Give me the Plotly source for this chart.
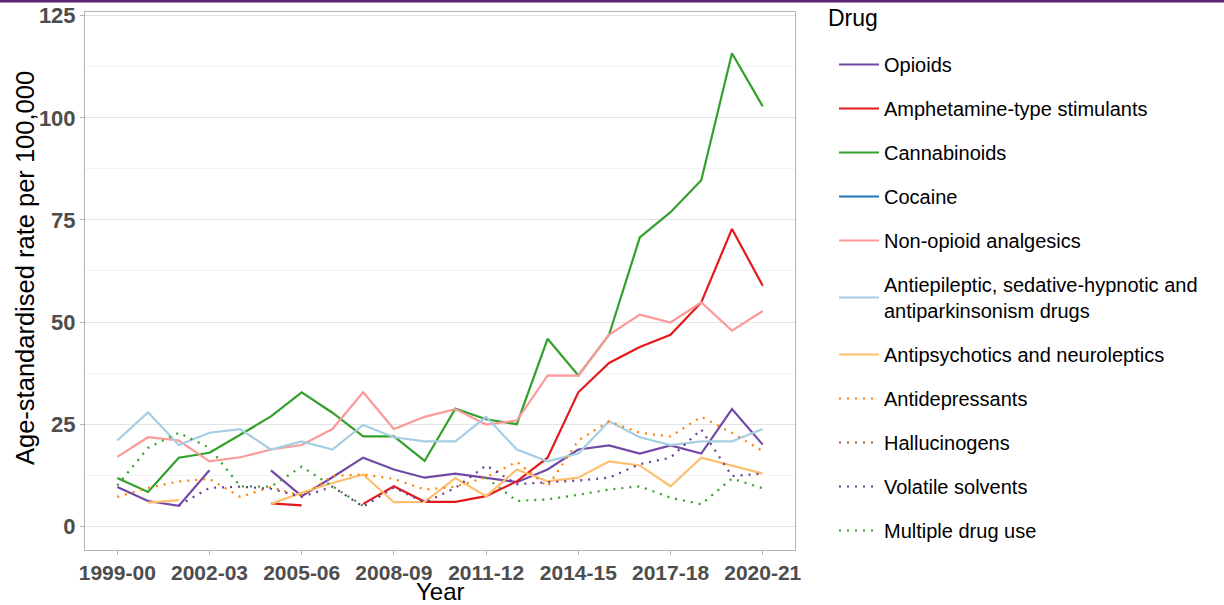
import plotly.graph_objects as go

years = ["1999-00", "2000-01", "2001-02", "2002-03", "2003-04", "2004-05", "2005-06",
         "2006-07", "2007-08", "2008-09", "2009-10", "2010-11", "2011-12", "2012-13",
         "2013-14", "2014-15", "2015-16", "2016-17", "2017-18", "2018-19", "2019-20", "2020-21"]
tick_labels = ["1999-00", "2002-03", "2005-06", "2008-09", "2011-12", "2014-15", "2017-18", "2020-21"]
y_ticks = [0, 25, 50, 75, 100, 125]

N = None
opioids = [9.6, 6.2, 5.0, 13.7, N, 13.7, 7.4, 12.0, 16.8, 13.9, 11.9, 12.9, 11.9, 10.8, 13.9, 18.8, 19.8, 17.8, 19.8, 17.8, 28.7, 20.0]
amphetamine = [N, N, N, N, N, 5.6, 5.1, N, 5.5, 9.8, 6.0, 6.0, 7.4, 11.0, 16.8, 32.8, 40.0, 43.9, 46.9, 54.8, 72.8, 58.9]
cannabinoids = [11.8, 8.4, 16.8, 18.0, 22.4, 26.9, 32.8, 27.8, 22.0, 22.0, 16.0, 28.8, 26.2, 25.0, 45.9, 36.9, 46.9, 70.7, 76.9, 84.7, 115.8, 102.8]
cocaine = [N] * 22
non_opioid = [17.0, 21.8, 21.0, 15.9, 16.9, 18.8, 19.9, 23.8, 32.8, 23.8, 26.8, 28.7, 24.9, 25.9, 36.9, 36.9, 46.9, 51.8, 49.9, 54.8, 47.9, 52.7]
antiepileptic = [21.0, 27.9, 19.9, 22.9, 23.8, 18.8, 20.8, 18.8, 24.8, 21.8, 20.8, 20.8, 26.8, 18.8, 15.9, 17.8, 25.7, 21.8, 19.9, 20.8, 20.8, 23.8]
antipsychotics = [N, 5.8, 6.4, N, N, 5.5, 8.2, 10.6, 12.7, 5.9, 6.0, 11.8, 7.4, 13.9, 11.0, 11.9, 15.9, 14.9, 9.8, 16.8, 14.8, 12.9]
antidepressants = [7.2, 9.4, 11.0, 11.6, 7.2, 9.6, 7.4, 12.3, 12.7, 11.6, 9.0, 9.7, 12.0, 15.8, 9.7, 21.0, 25.7, 22.9, 22.0, 26.8, 22.9, 18.4]
hallucinogens = [N] * 22
volatile = [N, N, 5.1, 9.4, 9.7, 9.2, 7.2, 9.7, 4.8, 9.5, 5.8, 9.4, 14.9, 10.3, 10.8, 11.2, 11.9, 15.2, 16.8, 23.7, 12.3, 12.9]
multiple = [10.0, 19.2, 22.9, 19.2, 9.8, 9.7, 14.6, 9.7, 5.0, N, N, N, 11.9, 6.2, 6.6, 7.7, 9.0, 9.8, 7.0, 5.4, 11.7, 9.3]

series = [
    ("Opioids", opioids, "#7349A6", "solid"),
    ("Amphetamine-type stimulants", amphetamine, "#E31A1C", "solid"),
    ("Cannabinoids", cannabinoids, "#33A02C", "solid"),
    ("Cocaine", cocaine, "#1F78B4", "solid"),
    ("Non-opioid analgesics", non_opioid, "#FB9A99", "solid"),
    ("Antiepileptic, sedative-hypnotic and<br>antiparkinsonism drugs", antiepileptic, "#A6CEE3", "solid"),
    ("Antipsychotics and neuroleptics", antipsychotics, "#FDBF6F", "solid"),
    ("Antidepressants", antidepressants, "#FF7F00", "2px,6px"),
    ("Hallucinogens", hallucinogens, "#B15928", "2px,6px"),
    ("Volatile solvents", volatile, "#6A3D9A", "2px,6px"),
    ("Multiple drug use", multiple, "#33A02C", "2px,6px"),
]

fig = go.Figure()
for i, (name, vals, color, dash) in enumerate(series):
    fig.add_trace(go.Scatter(
        x=years, y=vals, name=name, mode="lines", legendgroup=f"g{i}",
        line=dict(color=color, width=2.2, dash=dash), connectgaps=False,
    ))

axis_line = "#B3B3B3"
tick_family = "Liberation Sans Narrow, Arial Narrow, Liberation Sans"
x_tick_font = dict(family=tick_family, size=21, color="#4D4D4D", weight="bold")
y_tick_font = dict(family=tick_family, size=22, color="#4D4D4D", weight="bold")

L, R, T, B = 85, 429, 12, 55
PW, PH = 1224 - L - R, 605 - T - B


def px_x(p):
    return (p - L) / PW


def px_y(p):
    return (605 - B - p) / PH


fig.update_layout(
    width=1224, height=605,
    margin=dict(l=L, r=R, t=T, b=B, autoexpand=False),
    paper_bgcolor="white", plot_bgcolor="white",
    font=dict(family="Liberation Sans, Arial"),
    showlegend=True,
    legend=dict(
        x=px_x(834), y=px_y(45), xanchor="left", yanchor="top",
        font=dict(size=20, color="#000000"),
        tracegroupgap=15, itemwidth=40,
    ),
    annotations=[
        dict(text="Drug", xref="paper", yref="paper", x=px_x(826), y=px_y(18),
             xanchor="left", yanchor="middle", showarrow=False,
             font=dict(size=23, color="#000000")),
        dict(text="Age-standardised rate per 100,000", xref="paper", yref="paper",
             x=px_x(25), y=px_y(268), textangle=-90, xanchor="center", yanchor="middle",
             showarrow=False, font=dict(size=25.5, color="#000000")),
        dict(text="Year", xref="paper", yref="paper", x=0.5, y=px_y(591),
             xanchor="center", yanchor="middle", showarrow=False,
             font=dict(size=24, color="#000000")),
    ],
    xaxis=dict(
        type="category", categoryorder="array", categoryarray=years,
        range=[-1.05, 22.05], tickvals=tick_labels, ticktext=tick_labels,
        showgrid=False, zeroline=False, automargin=False,
        showline=True, linecolor=axis_line, linewidth=1, mirror=True,
        ticks="outside", ticklen=4, tickcolor=axis_line,
        tickfont=x_tick_font,
    ),
    yaxis=dict(
        range=[-5.8, 125.9], tickvals=y_ticks, automargin=False,
        showgrid=True, gridcolor="#E3E3E3", gridwidth=1, zeroline=False,
        minor=dict(dtick=12.5, tick0=0, showgrid=True, gridcolor="#F2F2F2", gridwidth=1),
        showline=True, linecolor=axis_line, linewidth=1, mirror=True,
        ticks="outside", ticklen=4, tickcolor=axis_line,
        tickfont=y_tick_font,
    ),
    shapes=[dict(type="line", xref="paper", yref="paper",
                 x0=px_x(0), x1=px_x(1224), y0=px_y(1), y1=px_y(1),
                 line=dict(color="#5E2373", width=3))],
)

fig.write_html("out.html", config={"displayModeBar": False},
               post_script="document.body.style.margin='0';")
